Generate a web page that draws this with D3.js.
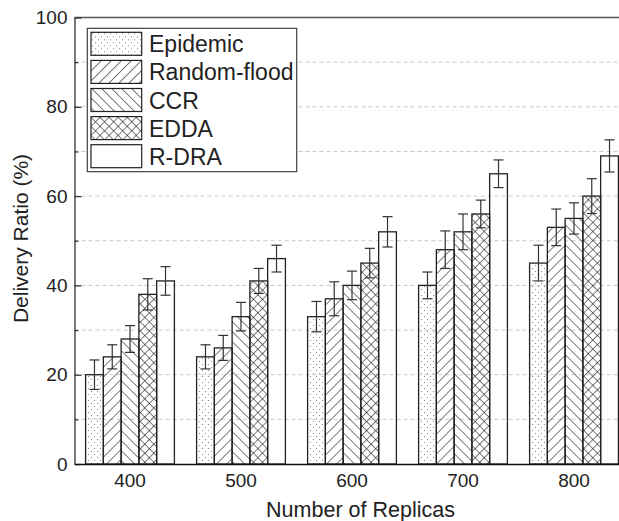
<!DOCTYPE html>
<html>
  <head>
    <meta charset="utf-8">
    <script src="https://d3js.org/d3.v7.min.js"></script>
    <style>
      body { margin: 0; background: white; }
      text { font-family: "Liberation Sans", Arial, sans-serif; fill: #222; }
    </style>
  </head>
<body>
  <script type="text/javascript">

    // data
    var replicas = ["400", "500", "600", "700", "800"];
    var series = ["Epidemic", "Random-flood", "CCR", "EDDA", "R-DRA"];

    var epidemic    = [20, 24, 33, 40, 45];
    var randomFlood = [24, 26, 37, 48, 53];
    var ccr         = [28, 33, 40, 52, 55];
    var edda        = [38, 41, 45, 56, 60];
    var rdra        = [41, 46, 52, 65, 69];

    var epidemicErr    = [3.3, 2.7, 3.4, 3.0, 4.0];
    var randomFloodErr = [2.7, 2.8, 3.8, 4.2, 4.1];
    var ccrErr         = [3.0, 3.2, 3.2, 4.0, 3.5];
    var eddaErr        = [3.5, 2.8, 3.3, 3.1, 3.9];
    var rdraErr        = [3.2, 3.0, 3.4, 3.1, 3.6];

    var yTicks = [0, 20, 40, 60, 80, 100];
    var yMinor = [10, 30, 50, 70, 90];
    var gridValues = [10, 20, 30, 40, 50, 60, 70, 80, 90];

    var values = [epidemic, randomFlood, ccr, edda, rdra];
    var errors = [epidemicErr, randomFloodErr, ccrErr, eddaErr, rdraErr];
    var fills = ["url(#dots)", "url(#fwd)", "url(#back)", "url(#cross)", "white"];

    var rows = [];
    series.forEach(function(s, i) {
      replicas.forEach(function(r, j) {
        rows.push({series: s, replica: r, value: values[i][j], err: errors[i][j], fill: fills[i]});
      });
    });

    var W = 619, H = 521;
    var mLeft = 74.5, mRight = 629.5, mTop = 17.5, mBottom = 464;

    var svg = d3.select("body").append("svg")
        .attr("width", W)
        .attr("height", H);

    // patterns
    var defs = svg.append("defs");

    var dots = defs.append("pattern")
        .attr("id", "dots")
        .attr("patternUnits", "userSpaceOnUse")
        .attr("width", 6).attr("height", 6);
    dots.append("circle").attr("cx", 1.5).attr("cy", 1.5).attr("r", 0.6).attr("fill", "#777");
    dots.append("circle").attr("cx", 4.5).attr("cy", 4.5).attr("r", 0.6).attr("fill", "#777");

    function hatch(id, angle, size, cross) {
      var p = defs.append("pattern")
          .attr("id", id)
          .attr("patternUnits", "userSpaceOnUse")
          .attr("width", size).attr("height", size)
          .attr("patternTransform", "rotate(" + angle + ")");
      p.append("line")
          .attr("x1", 0).attr("y1", 0).attr("x2", 0).attr("y2", size)
          .attr("stroke", "#111").attr("stroke-width", 1.1);
      if (cross) {
        p.append("line")
            .attr("x1", 0).attr("y1", 0).attr("x2", size).attr("y2", 0)
            .attr("stroke", "#111").attr("stroke-width", 1.1);
      }
    }
    hatch("fwd", 45, 7.07, false);
    hatch("back", -45, 7.07, false);
    hatch("cross", 45, 6.4, true);

    // scales
    var x0 = d3.scaleBand()
        .domain(replicas)
        .range([mLeft, mRight])
        .paddingInner(0.2)
        .paddingOuter(0.1);

    var x1 = d3.scaleBand()
        .domain(series)
        .range([0, x0.bandwidth()]);

    var y = d3.scaleLinear()
        .domain([0, 100])
        .range([mBottom, mTop]);

    // dashed grid
    svg.append("g")
        .selectAll("line")
        .data(gridValues)
        .enter()
        .append("line")
          .attr("x1", mLeft).attr("x2", mRight)
          .attr("y1", function(d) { return y(d); })
          .attr("y2", function(d) { return y(d); })
          .attr("stroke", "#c8c8c8")
          .attr("stroke-dasharray", "4,3");

    // bars
    var bars = svg.append("g");
    bars.selectAll("rect")
        .data(rows)
        .enter()
        .append("rect")
          .attr("x", function(d) { return x0(d.replica) + x1(d.series); })
          .attr("y", function(d) { return y(d.value); })
          .attr("width", x1.bandwidth())
          .attr("height", function(d) { return y(0) - y(d.value); })
          .attr("fill", function(d) { return d.fill == "white" ? "none" : d.fill; })
          .attr("stroke", "#222")
          .attr("stroke-width", 1.3);

    // error bars
    var eb = svg.append("g")
        .attr("stroke", "#333")
        .attr("stroke-width", 1.2);
    rows.forEach(function(d) {
      var cx = x0(d.replica) + x1(d.series) + x1.bandwidth() / 2;
      eb.append("line")
          .attr("x1", cx).attr("x2", cx)
          .attr("y1", y(d.value - d.err)).attr("y2", y(d.value + d.err));
      [d.value - d.err, d.value + d.err].forEach(function(v) {
        eb.append("line")
            .attr("x1", cx - 5).attr("x2", cx + 5)
            .attr("y1", y(v)).attr("y2", y(v));
      });
    });

    // frame
    svg.append("line")
        .attr("x1", mLeft).attr("x2", mRight)
        .attr("y1", mTop).attr("y2", mTop)
        .attr("stroke", "#555").attr("stroke-width", 1.3);

    // axes
    var yAxis = svg.append("g")
        .attr("transform", "translate(" + mLeft + ",0)")
        .call(d3.axisLeft(y).tickValues(yTicks).tickSize(-7).tickSizeOuter(0).tickPadding(7));
    yAxis.selectAll("text").style("font-size", "19px").attr("fill", "#222");
    yAxis.selectAll("line, path").attr("stroke", "#333").attr("stroke-width", 1.3);

    svg.append("g")
        .attr("transform", "translate(" + mLeft + ",0)")
        .call(d3.axisLeft(y).tickValues(yMinor).tickSize(-4).tickFormat(""))
        .call(function(g) { g.select(".domain").remove(); })
        .selectAll("line").attr("stroke", "#333").attr("stroke-width", 1.2);

    var xAxis = svg.append("g")
        .attr("transform", "translate(0," + mBottom + ")")
        .call(d3.axisBottom(x0).tickSize(0).tickPadding(10));
    xAxis.selectAll("text").style("font-size", "19px").attr("fill", "#222");
    xAxis.select(".domain").attr("stroke", "#111").attr("stroke-width", 1.5);

    // axis titles
    svg.append("text")
        .attr("x", 360.5)
        .attr("y", 516.5)
        .attr("text-anchor", "middle")
        .style("font-size", "21.5px")
        .text("Number of Replicas");

    svg.append("text")
        .attr("transform", "translate(27.5,238.5) rotate(-90)")
        .attr("text-anchor", "middle")
        .style("font-size", "21px")
        .text("Delivery Ratio (%)");

    // legend
    var legend = svg.append("g");
    legend.append("rect")
        .attr("x", 87.3).attr("y", 28.3)
        .attr("width", 209.4).attr("height", 143.4)
        .attr("fill", "white")
        .attr("stroke", "#333").attr("stroke-width", 1.1);

    var items = legend.selectAll("g.item")
        .data(series)
        .enter()
        .append("g")
          .attr("class", "item")
          .attr("transform", function(d, i) { return "translate(91," + (32.3 + i * 28.1) + ")"; });

    items.append("rect")
        .attr("width", 50.7).attr("height", 23)
        .attr("fill", function(d, i) { return fills[i]; })
        .attr("stroke", "#222").attr("stroke-width", 1.2);

    items.append("text")
        .attr("x", 58)
        .attr("y", 20)
        .style("font-size", "23px")
        .text(function(d) { return d; });

  </script>
</body>
</html>
